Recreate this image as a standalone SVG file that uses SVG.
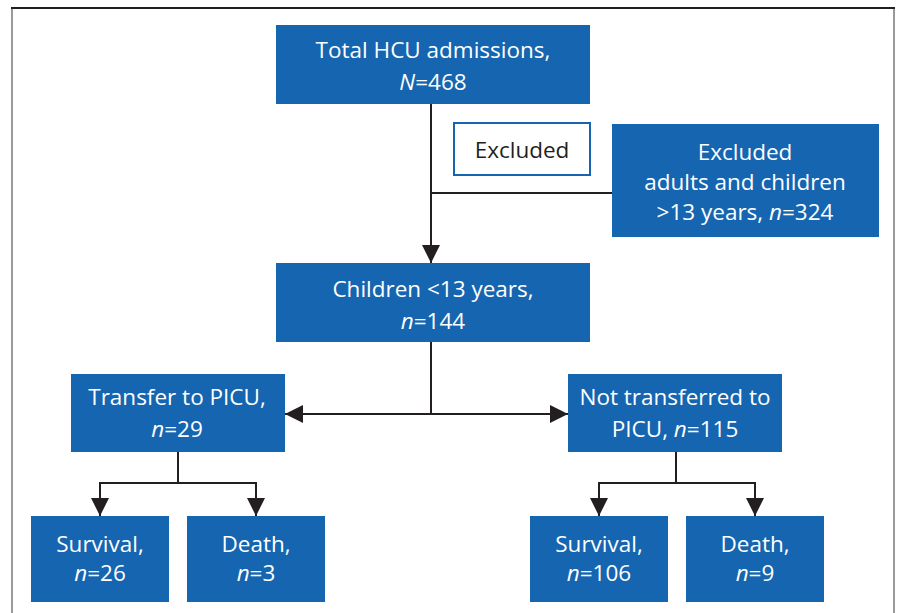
<svg xmlns="http://www.w3.org/2000/svg" width="898" height="613" viewBox="0 0 898 613">
<defs>
<style>
.box{fill:#1565b0}
.t{font-family:"Open Sans","Liberation Sans",sans-serif;font-size:22.5px;fill:#ffffff;text-anchor:middle}
.d{fill:#231f20}
.i{font-style:italic}
.ln{stroke:#231f20;stroke-width:2;fill:none}
</style>
<marker id="ah" viewBox="0 0 18 18" refX="18" refY="9" markerWidth="18" markerHeight="18" markerUnits="userSpaceOnUse" orient="auto">
<path d="M0,0 L18,9 L0,18 Z" fill="#231f20"/>
</marker>
</defs>
<rect x="0" y="0" width="898" height="613" fill="#ffffff"/>
<g id="frame">
<line x1="12" y1="8" x2="12" y2="613" stroke="#9a9a9a" stroke-width="2"/>
<line x1="894" y1="8" x2="894" y2="613" stroke="#9a9a9a" stroke-width="2"/>
<line x1="11" y1="8" x2="895" y2="8" stroke="#231f20" stroke-width="2"/>
</g>
<g id="connectors">
<line class="ln" x1="431" y1="104" x2="431" y2="263" marker-end="url(#ah)"/>
<line class="ln" x1="431" y1="193" x2="612" y2="193"/>
<line class="ln" x1="431" y1="342" x2="431" y2="414"/>
<line class="ln" x1="431" y1="414" x2="285" y2="414" marker-end="url(#ah)"/>
<line class="ln" x1="431" y1="414" x2="568" y2="414" marker-end="url(#ah)"/>
<line class="ln" x1="178" y1="452" x2="178" y2="483"/>
<path class="ln" d="M100,500 V483 H256 V500"/>
<line class="ln" x1="100" y1="490" x2="100" y2="516" marker-end="url(#ah)"/>
<line class="ln" x1="256" y1="490" x2="256" y2="516" marker-end="url(#ah)"/>
<line class="ln" x1="676" y1="452" x2="676" y2="483"/>
<path class="ln" d="M599,500 V483 H755 V500"/>
<line class="ln" x1="599" y1="490" x2="599" y2="516" marker-end="url(#ah)"/>
<line class="ln" x1="755" y1="490" x2="755" y2="516" marker-end="url(#ah)"/>
</g>
<g id="total">
<rect class="box" x="276" y="25" width="314" height="79"/>
<text class="t" x="433" y="58">Total HCU admissions,</text>
<text class="t" x="433" y="90"><tspan class="i">N</tspan>=468</text>
</g>
<g id="excluded-label">
<rect x="454" y="123" width="136" height="52" fill="#ffffff" stroke="#1565b0" stroke-width="2"/>
<text class="t d" x="522" y="158">Excluded</text>
</g>
<g id="excluded">
<rect class="box" x="612" y="124" width="267" height="113"/>
<text class="t" x="745" y="160">Excluded</text>
<text class="t" x="745" y="190">adults and children</text>
<text class="t" x="745" y="220">&gt;13 years, <tspan class="i">n</tspan>=324</text>
</g>
<g id="children">
<rect class="box" x="276" y="263" width="314" height="79"/>
<text class="t" x="433" y="297">Children &lt;13 years,</text>
<text class="t" x="433" y="329"><tspan class="i">n</tspan>=144</text>
</g>
<g id="transfer">
<rect class="box" x="71" y="374" width="214" height="78"/>
<text class="t" x="177" y="405">Transfer to PICU,</text>
<text class="t" x="177" y="437"><tspan class="i">n</tspan>=29</text>
</g>
<g id="not-transferred">
<rect class="box" x="568" y="374" width="214" height="78"/>
<text class="t" x="675" y="405">Not transferred to</text>
<text class="t" x="675" y="437">PICU, <tspan class="i">n</tspan>=115</text>
</g>
<g id="survival1">
<rect class="box" x="31" y="516" width="138" height="86"/>
<text class="t" x="100" y="552">Survival,</text>
<text class="t" x="100" y="581"><tspan class="i">n</tspan>=26</text>
</g>
<g id="death1">
<rect class="box" x="187" y="516" width="138" height="86"/>
<text class="t" x="256" y="552">Death,</text>
<text class="t" x="256" y="581"><tspan class="i">n</tspan>=3</text>
</g>
<g id="survival2">
<rect class="box" x="530" y="516" width="138" height="86"/>
<text class="t" x="599" y="552">Survival,</text>
<text class="t" x="599" y="581"><tspan class="i">n</tspan>=106</text>
</g>
<g id="death2">
<rect class="box" x="686" y="516" width="138" height="86"/>
<text class="t" x="755" y="552">Death,</text>
<text class="t" x="755" y="581"><tspan class="i">n</tspan>=9</text>
</g>
</svg>
